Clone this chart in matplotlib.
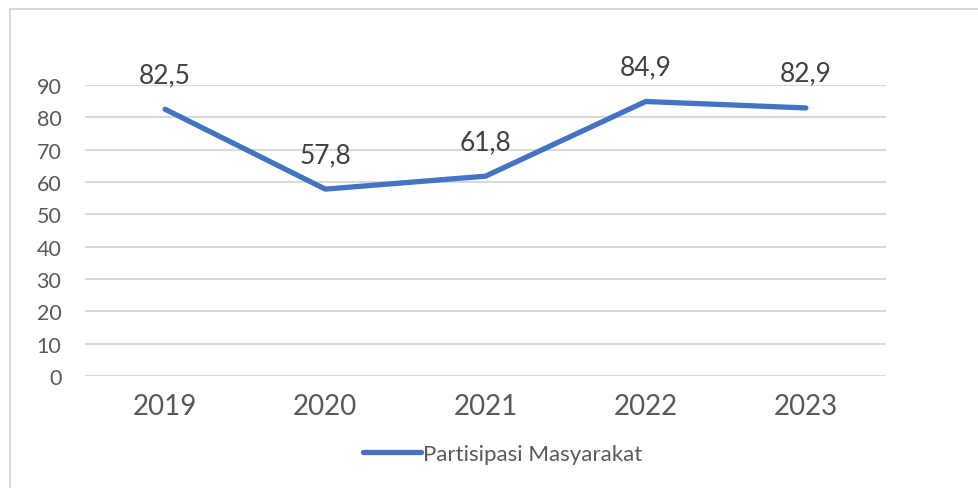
import matplotlib.pyplot as plt
from matplotlib.patches import Rectangle

years = ["2019", "2020", "2021", "2022", "2023"]
partisipasi = [82.5, 57.8, 61.8, 84.9, 82.9]
labels = ["82,5", "57,8", "61,8", "84,9", "82,9"]

plt.rcParams["font.family"] = ["Lato", "DejaVu Sans"]

fig = plt.figure(figsize=(9.79, 4.89), dpi=100)
ax = fig.add_axes([85 / 979, 1 - 377 / 489, 801 / 979, 291 / 489])

# chart border (runs off the right and bottom edge)
fig.patches.append(Rectangle((10 / 979, -0.2), 1.2, 1.2 - 9.5 / 489,
                             transform=fig.transFigure, fill=False,
                             edgecolor="#D9D9D9", linewidth=1.5))

x = list(range(len(years)))
ax.plot(x, partisipasi, color="#4472C4", linewidth=3.8,
        solid_capstyle="round", solid_joinstyle="round",
        label="Partisipasi Masyarakat")

for xi, v, t in zip(x, partisipasi, labels):
    ax.annotate(t, (xi, v), xytext=(0, 16), textcoords="offset points",
                ha="center", va="bottom", fontsize=19, color="#404040")

ax.set_xlim(-0.5, 4.5)
ax.set_ylim(0, 90)
ax.set_yticks(range(0, 91, 10))
ax.set_xticks(x)
ax.set_xticklabels(years)
ax.grid(axis="y", color="#D9D9D9", linewidth=1.5)
ax.set_axisbelow(True)
for s in ax.spines.values():
    s.set_visible(False)
ax.tick_params(axis="y", length=0, labelsize=15.5, labelcolor="#595959", pad=17)
ax.tick_params(axis="x", length=0, labelsize=20, labelcolor="#595959", pad=12)

fig.legend(loc="center", bbox_to_anchor=(0.5 + 13 / 979, 1 - 455 / 489), frameon=False,
           fontsize=16, labelcolor="#595959", handlelength=2.6, handletextpad=0.1)

fig.savefig("out.png", dpi=100)
